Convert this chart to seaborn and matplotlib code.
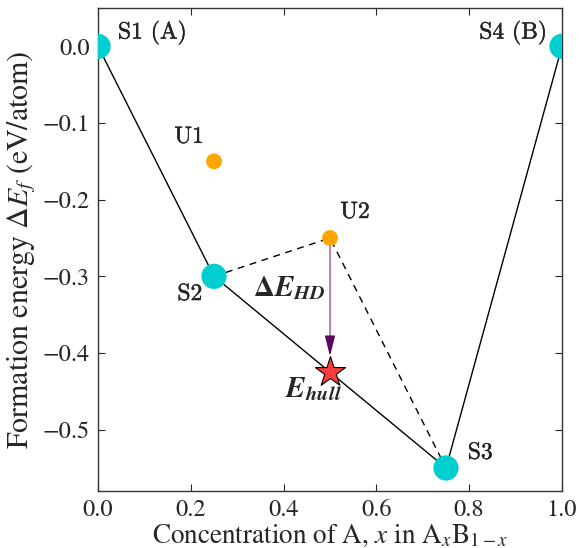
import matplotlib
matplotlib.use("Agg")
import matplotlib.pyplot as plt
import matplotlib.patheffects as pe
import seaborn as sns
import pandas as pd

# Stable phases (on the hull) and unstable phases
stable_x = [0.0, 0.25, 0.75, 1.0]
stable_y = [0.0, -0.30, -0.55, 0.0]
stable_labels = ["S1 (A)", "S2", "S3", "S4 (B)"]
unstable_x = [0.25, 0.5]
unstable_y = [-0.15, -0.25]
unstable_labels = ["U1", "U2"]
# decomposition of U2 into S2 + S3
decomp_x = [0.25, 0.5, 0.75]
decomp_y = [-0.30, -0.25, -0.55]
e_hull_x = 0.5
e_hull_y = -0.425
x_ticks = [0.0, 0.2, 0.4, 0.6, 0.8, 1.0]
y_ticks = [0.0, -0.1, -0.2, -0.3, -0.4, -0.5]

sns.set_style("ticks")
plt.rcParams["font.family"] = ["STIXGeneral", "DejaVu Serif"]
plt.rcParams["mathtext.fontset"] = "stix"

fig, ax = plt.subplots(figsize=(5.79, 5.48), dpi=100)
fig.subplots_adjust(left=0.1693, right=0.9706, bottom=0.104, top=0.9854)

hull = pd.DataFrame({"x": stable_x, "y": stable_y})
sns.lineplot(data=hull, x="x", y="y", sort=False, color="black", lw=1.0, ax=ax, zorder=2)
sns.lineplot(x=decomp_x, y=decomp_y, sort=False, color="black", lw=1.0,
             linestyle=(0, (5, 4)), ax=ax, zorder=2)

sns.scatterplot(x=stable_x, y=stable_y, s=330, color="#00CED1", edgecolor="none",
                ax=ax, zorder=4)
sns.scatterplot(x=unstable_x, y=unstable_y, s=130, color="#FFA500", edgecolor="none",
                ax=ax, zorder=4)

# arrow from U2 down to the hull
ax.plot([unstable_x[1], e_hull_x], [unstable_y[1], e_hull_y + 0.04], color="#b06cb0",
        lw=1.2, zorder=3)
ax.annotate("", xy=(e_hull_x, e_hull_y + 0.017), xytext=(e_hull_x, e_hull_y + 0.04),
            arrowprops=dict(arrowstyle="-|>,head_length=1.2,head_width=0.3",
                            color="#5a0a5a", lw=1.2), zorder=3)

sns.scatterplot(x=[e_hull_x], y=[e_hull_y], marker="*", s=520, color="#ff3b3b",
                edgecolor="black", linewidth=0.8, ax=ax, zorder=5)

lab = dict(fontsize=17, family="cmr10",
           path_effects=[pe.withStroke(linewidth=0.25, foreground="black")])
ax.text(0.043, 0.018, stable_labels[0], ha="left", va="center", **lab)
ax.text(0.225, -0.323, stable_labels[1], ha="right", va="center", **lab)
ax.text(0.797, -0.530, stable_labels[2], ha="left", va="center", **lab)
ax.text(0.968, 0.018, stable_labels[3], ha="right", va="center", **lab)
ax.text(0.228, -0.118, unstable_labels[0], ha="right", va="center", **lab)
ax.text(0.522, -0.216, unstable_labels[1], ha="left", va="center", **lab)

ax.text(0.49, -0.315, r"$\boldsymbol{\Delta E}_{\boldsymbol{HD}}$", ha="right",
        va="center", fontsize=21)
ax.text(0.465, -0.447, r"$\boldsymbol{E}_{\boldsymbol{hull}}$", ha="center",
        va="center", fontsize=21)

ax.set_xlim(0, 1)
ax.set_ylim(-0.58, 0.05)
ax.set_xticks(x_ticks)
ax.set_yticks(y_ticks)
ax.tick_params(direction="in", top=True, right=True, length=5, width=0.8,
               labelsize=17.5, pad=6)
for sp in ax.spines.values():
    sp.set_linewidth(1.0)
    sp.set_color("#333333")

ax.set_xlabel(r"Concentration of A, $x$ in A$_x$B$_{1-x}$", fontsize=19.5, labelpad=1)
ax.set_ylabel(r"Formation energy $\Delta E_f$ (eV/atom)", fontsize=21.5, labelpad=3)

fig.savefig("out.png", dpi=100)
